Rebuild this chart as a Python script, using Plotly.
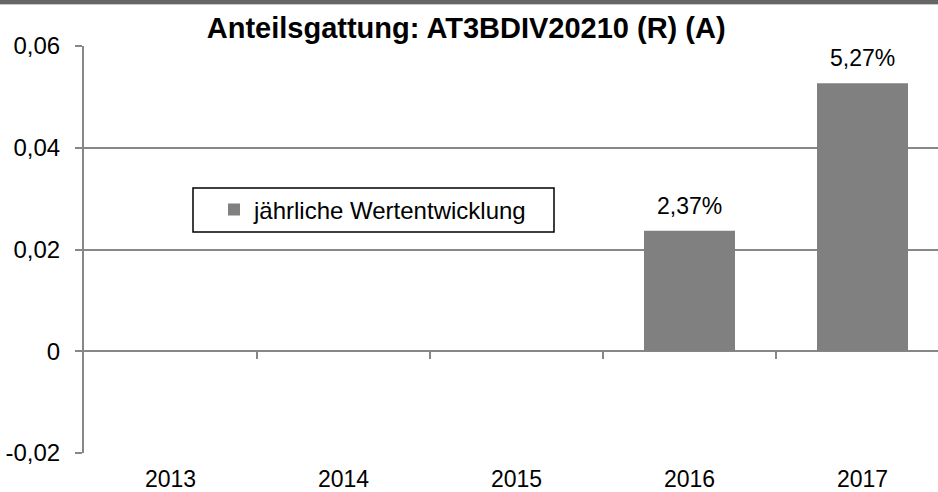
import plotly.graph_objects as go

categories = ["2013", "2014", "2015", "2016", "2017"]
values = [None, None, None, 0.0237, 0.0527]
value_labels = ["", "", "", "2,37%", "5,27%"]
y_tickvals = [-0.02, 0, 0.02, 0.04, 0.06]
y_ticktext = ["-0,02", "0", "0,02", "0,04", "0,06"]
series_name = "jährliche Wertentwicklung"
title_text = "Anteilsgattung: AT3BDIV20210 (R) (A)"

FONT = "Liberation Sans, Arial, sans-serif"
GRID = "#878787"
BAR = "#808080"

W, H = 938, 492
ML, MR, MT, MB = 84, 0, 46, 39
PW, PH = W - ML - MR, H - MT - MB

def px_x(p):
    return (p - ML) / PW

def px_y(p):
    return (H - MB - p) / PH

cat_w = 173.0
x_end = -0.5 + PW / cat_w

fig = go.Figure()
fig.add_trace(go.Bar(
    x=categories, y=values, name=series_name, marker_color=BAR,
    marker_line_width=0, width=0.526, showlegend=True,
))
# invisible helper trace for the tick axis crossing at zero
fig.add_trace(go.Scatter(x=[], y=[], xaxis="x2", showlegend=False, hoverinfo="skip"))

for i, (v, t) in enumerate(zip(values, value_labels)):
    if v is None:
        continue
    fig.add_annotation(x=i, y=v, xref="x", yref="y", text=t, showarrow=False,
                       yanchor="bottom", yshift=10,
                       font=dict(family=FONT, size=23, color="#000"))

fig.update_layout(
    width=W, height=H,
    margin=dict(l=ML, r=MR, t=MT, b=MB, pad=0, autoexpand=False),
    paper_bgcolor="white", plot_bgcolor="white",
    separators=",.",
    title=dict(text=f"<b>{title_text}</b>", x=0.497, xanchor="center",
               y=1 - 28 / H, yanchor="middle", automargin=False,
               font=dict(family=FONT, size=29, color="#000")),
    font=dict(family=FONT, size=24, color="#000"),
    xaxis=dict(type="category", range=[-0.5, x_end], showgrid=False,
               showline=False, ticks="", tickfont=dict(size=23),
               zeroline=False, automargin=False, ticklabelstandoff=10),
    xaxis2=dict(overlaying="x", anchor="free", position=0.25,
                range=[-0.5, x_end], tickmode="array",
                tickvals=[0.5, 1.5, 2.5, 3.5], ticks="outside", ticklen=7,
                tickwidth=2, tickcolor=GRID, showticklabels=False,
                showgrid=False, showline=False, zeroline=False, side="bottom",
                automargin=False),
    yaxis=dict(range=[-0.02, 0.06], tickmode="array", tickvals=y_tickvals,
               ticktext=y_ticktext, ticks="outside", ticklen=7, tickwidth=2,
               tickcolor=GRID, showgrid=True, gridcolor=GRID, gridwidth=2,
               showline=True, linecolor=GRID, linewidth=2,
               zeroline=True, zerolinecolor=GRID, zerolinewidth=2,
               tickfont=dict(size=24), ticklabelstandoff=10, automargin=False),
    legend=dict(x=px_x(214), y=px_y(210), xanchor="left", yanchor="middle",
                bgcolor="rgba(0,0,0,0)", borderwidth=0,
                font=dict(family=FONT, size=24, color="#000")),
    shapes=[
        dict(type="rect", xref="paper", yref="paper",
             x0=px_x(193), x1=px_x(554), y0=px_y(232), y1=px_y(188),
             line=dict(color="#000", width=1.5), fillcolor="white", layer="below"),
        dict(type="rect", xref="paper", yref="paper",
             x0=px_x(-5), x1=px_x(W + 5), y0=px_y(4), y1=px_y(-5),
             line=dict(width=0), fillcolor="#666666"),
        dict(type="line", xref="paper", yref="paper",
             x0=px_x(-5), x1=px_x(W + 5), y0=px_y(4.5), y1=px_y(4.5),
             line=dict(color="#c8c8c8", width=1)),
    ],
)

fig.write_html("out.html", config={"displayModeBar": False},
               post_script="document.body.style.margin='0';document.body.style.overflow='hidden';")
